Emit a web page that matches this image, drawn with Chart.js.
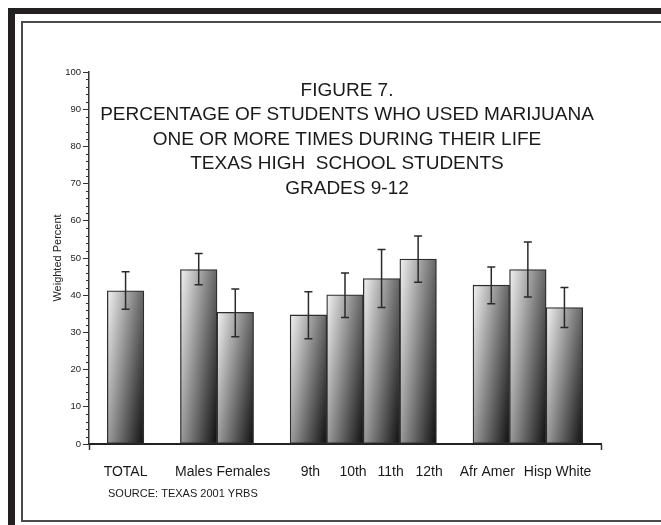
<!DOCTYPE html>
<html><head><meta charset="utf-8">
<script src="https://cdn.jsdelivr.net/npm/chart.js@4/dist/chart.umd.min.js"></script>
<style>
html,body{margin:0;padding:0;background:#fff;width:661px;height:525px;overflow:hidden;}
#outer{position:absolute;left:8px;top:8px;width:700px;height:600px;border-left:7px solid #231f20;border-top:6px solid #231f20;box-sizing:border-box;}
#inner{position:absolute;left:21px;top:21px;width:700px;height:501px;border:2px solid #4a4a4a;box-sizing:border-box;}
canvas{position:absolute;left:0;top:0;}
</style></head><body>
<div id="outer"></div><div id="inner"></div>
<canvas id="c" width="661" height="525"></canvas>
<script>
// ---- data ----
const titleLines = ['FIGURE 7.', 'PERCENTAGE OF STUDENTS WHO USED MARIJUANA', 'ONE OR MORE TIMES DURING THEIR LIFE', 'TEXAS HIGH  SCHOOL STUDENTS', 'GRADES 9-12'];
const groups = [['TOTAL'], ['Males', 'Females'], ['9th', '10th', '11th', '12th'], ['Afr Amer', 'Hisp', 'White']];
const percent = [41.2, 46.9, 35.4, 34.7, 40.1, 44.5, 49.7, 42.7, 46.9, 36.7];
const ciLower = [36.2, 42.8, 28.8, 28.3, 34.0, 36.7, 43.5, 37.7, 39.5, 31.3];
const ciUpper = [46.3, 51.2, 41.7, 40.9, 46.0, 52.3, 55.9, 47.6, 54.3, 42.1];
const yTickValues = [0, 10, 20, 30, 40, 50, 60, 70, 80, 90, 100];
const yMinorStep = 2;
const yAxisTitle = 'Weighted Percent';
const sourceNote = 'SOURCE: TEXAS 2001 YRBS';

// ---- layout / style constants ----
const FONT = "'Liberation Sans', Arial, Helvetica, sans-serif";
const labelNudgePx = [0, -5, 8, 2, 8, 9, 11, -4, 10, 9];

// build slot structure (blank slot before, between and after groups)
const slotLabels = [''];
const slotIndex = [];
groups.forEach(g => { g.forEach(l => { slotIndex.push(slotLabels.length); slotLabels.push(l); }); slotLabels.push(''); });
const slotValues = slotLabels.map(() => null);
slotIndex.forEach((s, k) => { slotValues[s] = percent[k]; });

function barGradient(c) {
  const chart = c.chart;
  if (!chart.chartArea) return '#999';
  const v = slotValues[c.dataIndex];
  if (v == null) return '#999';
  const xs = chart.scales.x, ys = chart.scales.y;
  const cx = xs.getPixelForValue(c.dataIndex);
  const w = xs.getPixelForValue(1) - xs.getPixelForValue(0);
  const top = ys.getPixelForValue(v), bot = ys.getPixelForValue(0);
  const h = Math.max(bot - top, 1);
  const fx = 0.62, fy = 0.38;
  const D = 1 / (fx * fx / (w * w) + fy * fy / (h * h));
  const a = fx * D / w, b = fy * D / h;
  const x0 = cx - w / 2, y0 = top;
  const g = chart.ctx.createLinearGradient(x0, y0, x0 + a, y0 + b);
  g.addColorStop(0, '#f2f2f2');
  g.addColorStop(0.45, '#8c8c8c');
  g.addColorStop(1, '#0e0e0e');
  return g;
}

const decorations = {
  id: 'decorations',
  afterDatasetsDraw(chart) {
    const ctx = chart.ctx, ys = chart.scales.y, xs = chart.scales.x;
    const meta = chart.getDatasetMeta(0);
    ctx.save();
    // error bars
    ctx.strokeStyle = '#2a2a2a';
    ctx.lineWidth = 1.5;
    slotIndex.forEach((s, k) => {
      const x = meta.data[s].x;
      const y1 = ys.getPixelForValue(ciUpper[k]), y2 = ys.getPixelForValue(ciLower[k]);
      ctx.beginPath();
      ctx.moveTo(x, y1); ctx.lineTo(x, y2);
      ctx.moveTo(x - 4, y1); ctx.lineTo(x + 4, y1);
      ctx.moveTo(x - 4, y2); ctx.lineTo(x + 4, y2);
      ctx.stroke();
    });
    // minor y ticks
    ctx.lineWidth = 1;
    ctx.strokeStyle = '#333';
    for (let v = ys.min; v <= ys.max; v += yMinorStep) {
      if (yTickValues.includes(v)) continue;
      const y = Math.round(ys.getPixelForValue(v)) + 0.5;
      ctx.beginPath(); ctx.moveTo(ys.right - 3, y); ctx.lineTo(ys.right, y); ctx.stroke();
    }
    // title
    const area = chart.chartArea;
    const cx = (area.left + area.right) / 2 + 2;
    ctx.fillStyle = '#1a1a1a';
    ctx.textAlign = 'center';
    ctx.textBaseline = 'alphabetic';
    ctx.font = '19px ' + FONT;
    titleLines.forEach((t, i) => ctx.fillText(t, cx, area.top + 23.5 + i * 24.5));
    // category labels
    ctx.font = '14px ' + FONT;
    slotIndex.forEach((s, k) => {
      ctx.fillText(slotLabels[s], xs.getPixelForValue(s) + labelNudgePx[k], area.bottom + 32);
    });
    // source
    ctx.textAlign = 'left';
    ctx.font = '11px ' + FONT;
    ctx.fillText(sourceNote, area.left + 19, area.bottom + 53);
    ctx.restore();
  }
};

new Chart(document.getElementById('c'), {
  type: 'bar',
  data: {
    labels: slotLabels,
    datasets: [{
      data: slotValues,
      backgroundColor: barGradient,
      borderColor: '#2e2e2e',
      borderWidth: 1.3,
      borderSkipped: false,
      barPercentage: 1,
      categoryPercentage: 1
    }]
  },
  options: {
    responsive: false,
    animation: false,
    devicePixelRatio: 1,
    layout: { padding: { left: 44, top: 72, right: 60, bottom: 71 } },
    plugins: { legend: { display: false }, tooltip: { enabled: false }, title: { display: false } },
    scales: {
      x: {
        type: 'category',
        offset: false,
        ticks: { display: false, autoSkip: false },
        grid: {
          offset: false,
          drawOnChartArea: false, tickLength: 6, tickWidth: 1.5,
          tickColor: c => (c.index === 0 || c.index === slotLabels.length - 1) ? '#333' : 'rgba(0,0,0,0)'
        },
        border: { display: true, color: '#222', width: 2 },
        afterFit: s => { s.height = 10; }
      },
      y: {
        min: 0, max: 100,
        afterBuildTicks: s => { s.ticks = yTickValues.map(v => ({ value: v })); },
        ticks: { font: { family: FONT, size: 9.5 }, color: '#222', padding: 2 },
        grid: { drawOnChartArea: false, tickLength: 6, tickColor: '#333', tickWidth: 1 },
        border: { display: true, color: '#333', width: 1.5 },
        title: { display: true, text: yAxisTitle, font: { family: FONT, size: 11 }, color: '#222', padding: { top: 7, bottom: 0 } },
        afterFit: s => { s.width = 45; }
      }
    }
  },
  plugins: [decorations]
});
</script>
</body></html>
